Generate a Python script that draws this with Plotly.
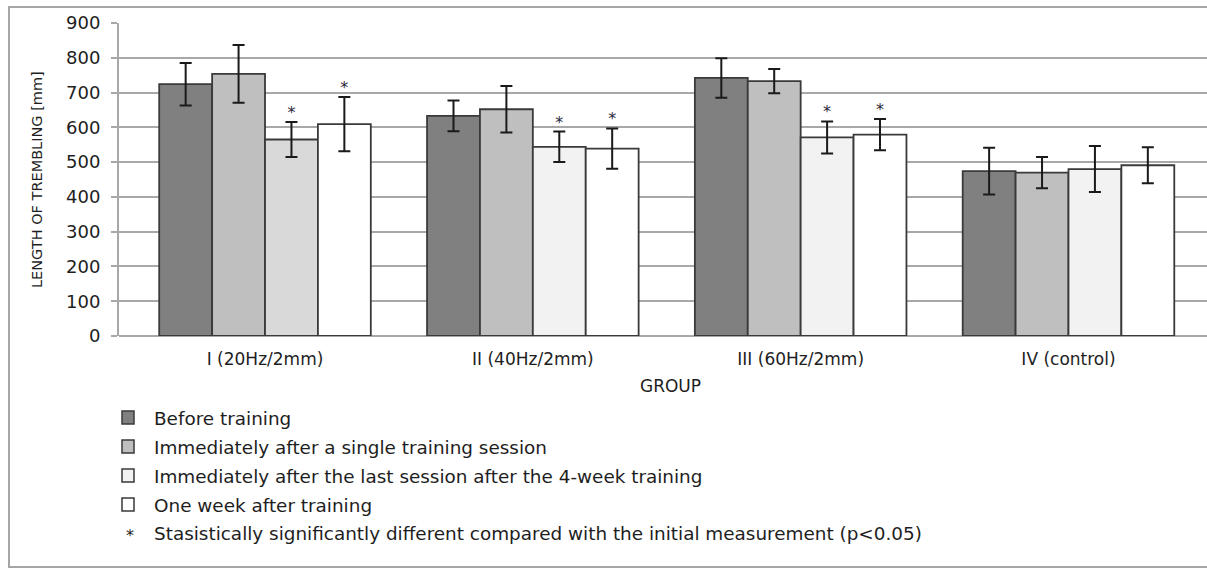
import plotly.graph_objects as go

# ---- data -------------------------------------------------------------
groups = ["I (20Hz/2mm)", "II (40Hz/2mm)", "III (60Hz/2mm)", "IV (control)"]

series_names = [
    "Before training",
    "Immediately after a single training session",
    "Immediately after the last session after the 4-week training",
    "One week after training",
]

before_training = [724, 633, 742, 474]
after_single = [754, 652, 733, 470]
after_last = [565, 544, 571, 480]
one_week_after = [609, 539, 579, 491]

sd_before = [61, 44, 57, 67]
sd_single = [83, 67, 35, 45]
sd_last = [50, 44, 46, 66]
sd_week = [78, 58, 45, 52]

# significance vs. initial measurement (p<0.05)
sig_before = [False, False, False, False]
sig_single = [False, False, False, False]
sig_last = [True, True, True, False]
sig_week = [True, True, True, False]

y_ticks = [0, 100, 200, 300, 400, 500, 600, 700, 800, 900]
footnote = "Stasistically significantly different compared with the initial measurement (p<0.05)"

values = [before_training, after_single, after_last, one_week_after]
errors = [sd_before, sd_single, sd_last, sd_week]
signif = [sig_before, sig_single, sig_last, sig_week]

# ---- styling ----------------------------------------------------------
W, H = 1207, 569
M_L, M_R, M_T, M_B = 119, 0, 23, 233
FONT = "DejaVu Sans"
TXT = "#1e1e1e"
fills = [
    ["#808080"] * 4,
    ["#bfbfbf"] * 4,
    ["#d9d9d9", "#f2f2f2", "#f2f2f2", "#f2f2f2"],
    ["#ffffff"] * 4,
]
legend_fill = ["#808080", "#bfbfbf", "#f2f2f2", "#ffffff"]
BARGAP = 0.21
n_series = len(values)
bar_w = (1 - BARGAP) / n_series
xpos = list(range(len(groups)))

fig = go.Figure()

for k in range(n_series):
    fig.add_trace(go.Bar(
        x=xpos, y=values[k], name=series_names[k],
        marker=dict(color=fills[k], line=dict(color="#3a3a3a", width=1.8)),
        error_y=dict(type="data", array=errors[k], color="#1a1a1a",
                     thickness=2, width=6),
        showlegend=False,
    ))

# significance stars above the error bars
for k in range(n_series):
    xs, ys = [], []
    for i in xpos:
        if signif[k][i]:
            xs.append(i + (k - (n_series - 1) / 2) * bar_w)
            ys.append(values[k][i] + errors[k][i])
    if xs:
        fig.add_trace(go.Scatter(
            x=xs, y=ys, mode="text", text=["*"] * len(xs),
            textposition="top center",
            textfont=dict(family=FONT, size=16, color="#2a2a3a"),
            showlegend=False, hoverinfo="skip", cliponaxis=False,
        ))

plot_w = W - M_L - M_R
plot_h = H - M_T - M_B


def px_x(px):
    return (px - M_L) / plot_w


def px_y(py):
    return 1 - (py - M_T) / plot_h


shapes = [
    # outer chart frame
    dict(type="rect", xref="paper", yref="paper",
         x0=px_x(9), x1=px_x(1210), y0=px_y(567), y1=px_y(7),
         line=dict(color="#a6a6a6", width=2), fillcolor="rgba(0,0,0,0)",
         layer="below"),
]
annotations = []

# legend block
row_y = [418, 447, 476, 505, 533]
for k in range(n_series):
    cy = row_y[k]
    shapes.append(dict(type="rect", xref="paper", yref="paper",
                       x0=px_x(122), x1=px_x(134), y0=px_y(cy + 6), y1=px_y(cy - 7),
                       fillcolor=legend_fill[k], line=dict(color="#3a3a3a", width=1.5)))
    annotations.append(dict(xref="paper", yref="paper", x=px_x(152), y=px_y(cy),
                            xanchor="left", yanchor="middle", showarrow=False,
                            text=series_names[k],
                            font=dict(family=FONT, size=18.4, color=TXT)))
annotations.append(dict(xref="paper", yref="paper", x=px_x(130), y=px_y(row_y[4] + 2),
                        xanchor="center", yanchor="middle", showarrow=False,
                        text="*", font=dict(family=FONT, size=16, color=TXT)))
annotations.append(dict(xref="paper", yref="paper", x=px_x(152), y=px_y(row_y[4]),
                        xanchor="left", yanchor="middle", showarrow=False,
                        text=footnote, font=dict(family=FONT, size=18.4, color=TXT)))
# axis titles
annotations.append(dict(xref="paper", yref="paper", x=px_x(670), y=px_y(386),
                        xanchor="center", yanchor="middle", showarrow=False,
                        text="GROUP", font=dict(family=FONT, size=17, color=TXT)))
annotations.append(dict(xref="paper", yref="paper", x=px_x(37), y=px_y(180),
                        xanchor="center", yanchor="middle", showarrow=False,
                        textangle=-90, text="LENGTH OF TREMBLING [mm]",
                        font=dict(family=FONT, size=14.5, color=TXT)))

x_lo = -(265 - M_L) / 267.8
x_hi = 3 + (W - 1068.5) / 267.8

fig.update_layout(
    width=W, height=H,
    margin=dict(l=M_L, r=M_R, t=M_T, b=M_B, pad=0),
    paper_bgcolor="white", plot_bgcolor="white",
    barmode="group", bargap=BARGAP, bargroupgap=0,
    font=dict(family=FONT, color=TXT),
    shapes=shapes, annotations=annotations,
    showlegend=False,
    xaxis=dict(range=[x_lo, x_hi], tickvals=xpos, ticktext=groups,
               showgrid=False, zeroline=False, showline=False, ticks="",
               tickfont=dict(family=FONT, size=17, color=TXT), ticklabelstandoff=11),
    yaxis=dict(range=[0, 900], tickvals=y_ticks, showgrid=True,
               gridcolor="#a8a8a8", gridwidth=2, zeroline=True,
               zerolinecolor="#a8a8a8", zerolinewidth=2,
               showline=True, linecolor="#a8a8a8", linewidth=2,
               ticks="outside", ticklen=6, tickcolor="#a8a8a8", tickwidth=2,
               ticklabelstandoff=7,
               tickfont=dict(family=FONT, size=18, color=TXT)),
)

fig.write_html("out.html")
